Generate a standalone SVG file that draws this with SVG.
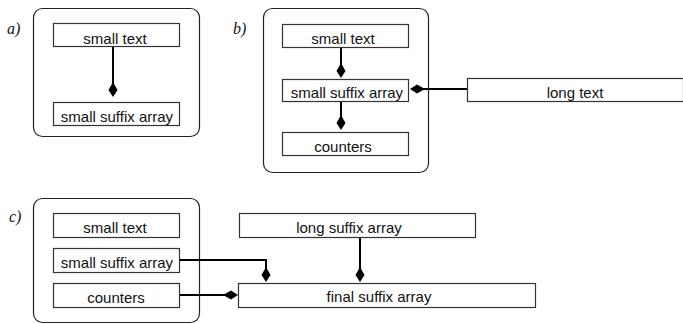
<svg xmlns="http://www.w3.org/2000/svg" width="683" height="324" viewBox="0 0 683 324">
<style>
.panel{fill:none;stroke:#222;stroke-width:1.2}
.box{fill:#fff;stroke:#333;stroke-width:1.2}
.t{font-family:"Liberation Sans",Arial,sans-serif;font-size:15px;fill:#111;text-anchor:middle}
.lbl{font-family:"Liberation Serif","Times New Roman",serif;font-style:italic;font-size:16px;fill:#111}
.c{fill:none;stroke:#000;stroke-width:2}
</style>
<defs>
<marker id="ah" viewBox="0 -5 16 10" refX="8" refY="0" markerWidth="16" markerHeight="10" markerUnits="userSpaceOnUse" orient="auto">
<path d="M0,0 L8,-4.5 L15,0 L8,4.5 Z" fill="#000"/>
</marker>
</defs>
<g id="panels">
<rect class="panel" x="33.5" y="8.5" width="166" height="128" rx="9"/>
<rect class="panel" x="263.5" y="8.5" width="165" height="164" rx="9"/>
<rect class="panel" x="33.5" y="198.5" width="166" height="124" rx="9"/>
<text class="lbl" x="7" y="34">a)</text>
<text class="lbl" x="233" y="34">b)</text>
<text class="lbl" x="9" y="222">c)</text>
</g>
<g id="a-small-text"><rect class="box" x="53.5" y="23.5" width="126" height="23"/><text class="t" x="115" y="44">small text</text></g>
<g id="a-small-suffix-array"><rect class="box" x="53.5" y="102.5" width="126" height="23"/><text class="t" x="117" y="122">small suffix array</text></g>
<g id="b-small-text"><rect class="box" x="282.5" y="24.5" width="126" height="23"/><text class="t" x="343" y="44">small text</text></g>
<g id="b-small-suffix-array"><rect class="box" x="282.5" y="79.5" width="126" height="22"/><text class="t" x="347" y="98">small suffix array</text></g>
<g id="b-counters"><rect class="box" x="282.5" y="132.5" width="126" height="23"/><text class="t" x="343" y="152">counters</text></g>
<g id="b-long-text"><rect class="box" x="467.5" y="78.5" width="216" height="23"/><text class="t" x="575" y="98">long text</text></g>
<g id="c-small-text"><rect class="box" x="53.5" y="213.5" width="126" height="24"/><text class="t" x="115" y="233">small text</text></g>
<g id="c-small-suffix-array"><rect class="box" x="53.5" y="248.5" width="126" height="24"/><text class="t" x="117" y="268">small suffix array</text></g>
<g id="c-counters"><rect class="box" x="53.5" y="283.5" width="126" height="24"/><text class="t" x="116" y="303">counters</text></g>
<g id="c-long-suffix-array"><rect class="box" x="239.5" y="213.5" width="236" height="24"/><text class="t" x="349" y="233">long suffix array</text></g>
<g id="c-final-suffix-array"><rect class="box" x="238.5" y="283.5" width="297" height="24"/><text class="t" x="379" y="302">final suffix array</text></g>
<g id="connectors">
<path class="c" d="M113,47 V90" marker-end="url(#ah)"/>
<path class="c" d="M341,48 V71" marker-end="url(#ah)"/>
<path class="c" d="M341,102 V123" marker-end="url(#ah)"/>
<path class="c" d="M467,89 H417" marker-end="url(#ah)"/>
<path class="c" d="M180,260 H266 V275" marker-end="url(#ah)"/>
<path class="c" d="M180,295 H231" marker-end="url(#ah)"/>
<path class="c" d="M360,238 V275" marker-end="url(#ah)"/>
</g>
</svg>
